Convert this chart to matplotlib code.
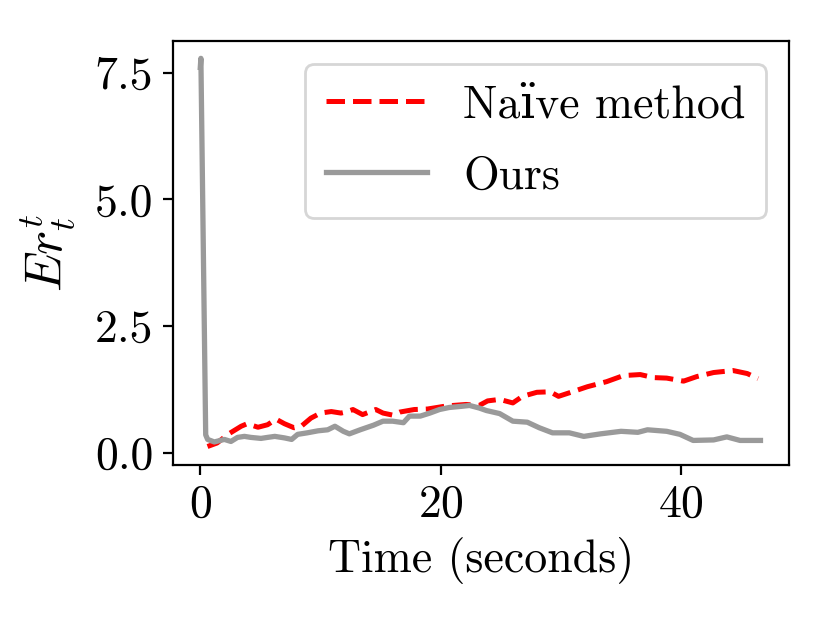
import matplotlib
matplotlib.use("Agg")
import matplotlib.pyplot as plt

plt.rcParams['font.family'] = ['cmr10', 'DejaVu Serif']
plt.rcParams['mathtext.fontset'] = 'cm'
plt.rcParams['axes.formatter.use_mathtext'] = True
plt.rcParams['font.size'] = 16.5

# Naive method (red dashed)
naive_t = [0.6, 1.4, 2.3, 3.4, 3.9, 4.8, 5.6, 6.3, 7.0, 7.8, 8.4, 9.2, 10.0, 10.9,
           11.7, 12.1, 12.7, 13.5, 14.6, 15.2, 16.0, 16.6, 17.8, 18.9, 20.2, 21.0,
           22.1, 23.2, 23.9, 24.9, 26.0, 26.8, 28.0, 29.1, 29.8, 30.7, 32.2, 33.8,
           35.2, 36.6, 37.7, 38.8, 40.2, 41.3, 42.7, 44.3, 45.5, 46.4]
naive_v = [0.12, 0.19, 0.36, 0.52, 0.57, 0.50, 0.55, 0.66, 0.57, 0.49, 0.52, 0.68, 0.78, 0.81,
           0.78, 0.80, 0.85, 0.75, 0.85, 0.78, 0.74, 0.80, 0.85, 0.86, 0.91, 0.93,
           0.95, 0.93, 1.02, 1.05, 0.98, 1.11, 1.19, 1.20, 1.11, 1.18, 1.30, 1.40,
           1.52, 1.54, 1.48, 1.47, 1.41, 1.50, 1.58, 1.62, 1.56, 1.46]

# Ours (gray solid)
ours_t = [0.0, 0.05, 0.45, 0.61, 1.17, 2.0, 2.55, 3.1, 3.67, 4.2, 5.05, 5.6, 6.2, 7.0,
          7.6, 8.1, 8.9, 9.8, 10.6, 11.2, 11.9, 12.4, 13.3, 14.4, 15.2, 16.0, 16.9,
          17.4, 18.3, 19.1, 19.9, 20.7, 21.6, 22.4, 23.2, 23.8, 24.9, 26.0, 27.2,
          28.2, 29.3, 30.7, 31.9, 33.3, 35.0, 36.4, 37.2, 38.8, 39.9, 41.0, 42.7,
          43.8, 44.9, 46.6]
ours_v = [7.60, 7.78, 0.35, 0.26, 0.21, 0.26, 0.22, 0.30, 0.32, 0.30, 0.28, 0.30, 0.32, 0.29,
          0.26, 0.36, 0.39, 0.43, 0.45, 0.52, 0.42, 0.37, 0.45, 0.54, 0.62, 0.62, 0.59,
          0.72, 0.72, 0.78, 0.85, 0.89, 0.91, 0.93, 0.88, 0.83, 0.77, 0.62, 0.60,
          0.49, 0.39, 0.39, 0.32, 0.37, 0.42, 0.40, 0.45, 0.42, 0.36, 0.24, 0.25,
          0.31, 0.24, 0.24]

fig = plt.figure(figsize=(4.15, 3.115), dpi=200)
ax = fig.add_axes([0.208, 0.254, 0.743, 0.68])

ax.plot(naive_t, naive_v, '--', color='red', lw=1.8, label='Naïve method')
ax.plot(ours_t, ours_v, '-', color='#9a9a9a', lw=1.9, label='Ours')

ax.set_xlim(-2.3, 49)
ax.set_ylim(-0.24, 8.12)
ax.set_xticks([0, 20, 40])
ax.set_yticks([0.0, 2.5, 5.0, 7.5])
ax.set_yticklabels(['0.0', '2.5', '5.0', '7.5'])
ax.set_xlabel('Time (seconds)')
ax.set_ylabel(r'$Er_t^t$', fontsize=18.5, labelpad=6)
ax.legend(loc='upper right', handlelength=2.2, labelspacing=0.64, borderpad=0.45)

fig.savefig('out.png', dpi=200)
